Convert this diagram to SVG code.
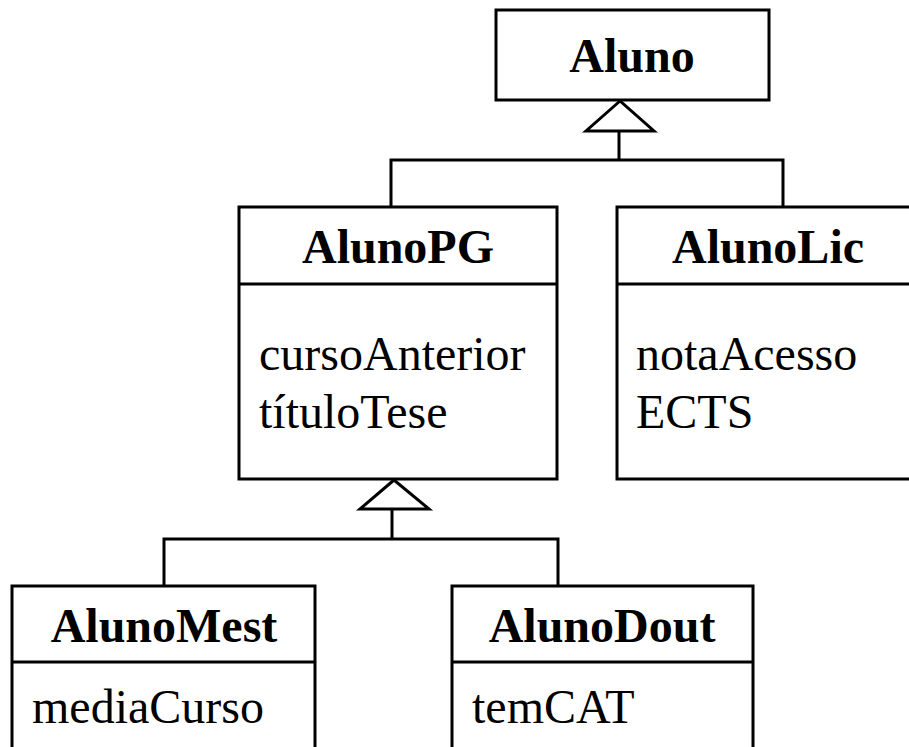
<svg xmlns="http://www.w3.org/2000/svg" width="909" height="747" viewBox="0 0 909 747">
<style>
.box{fill:#fff;stroke:#000;stroke-width:3}
.ln{fill:none;stroke:#000;stroke-width:3}
.name{font-family:"Liberation Serif","Times New Roman",serif;font-size:48px;font-weight:bold;text-anchor:middle;fill:#000}
.attr{font-family:"Liberation Serif","Times New Roman",serif;font-size:48px;fill:#000}
.tri{fill:#fff;stroke:#000;stroke-width:3}
</style>
<rect width="909" height="747" fill="#fff"/>
<g id="connectors">
<polyline class="ln" points="391,207 391,160 783,160 783,207"/>
<line class="ln" x1="619" y1="160" x2="619" y2="131"/>
<polygon class="tri" points="620,101 586,131 654,131"/>
<polyline class="ln" points="164,586 164,539 558,539 558,586"/>
<line class="ln" x1="392" y1="539" x2="392" y2="509"/>
<polygon class="tri" points="394,480 360,509 429,509"/>
</g>
<g id="Aluno">
<rect class="box" x="496" y="10" width="273" height="90"/>
<text class="name" x="632" y="72">Aluno</text>
</g>
<g id="AlunoPG">
<rect class="box" x="239" y="207" width="318" height="272"/>
<line class="ln" x1="239" y1="284" x2="557" y2="284"/>
<text class="name" x="398" y="263">AlunoPG</text>
<text class="attr" x="259" y="370">cursoAnterior</text>
<text class="attr" x="259" y="428">títuloTese</text>
</g>
<g id="AlunoLic">
<rect class="box" x="617" y="207" width="303" height="272"/>
<line class="ln" x1="617" y1="284" x2="920" y2="284"/>
<text class="name" x="768" y="263">AlunoLic</text>
<text class="attr" x="636" y="370">notaAcesso</text>
<text class="attr" x="636" y="428">ECTS</text>
</g>
<g id="AlunoMest">
<rect class="box" x="12" y="586" width="303" height="180"/>
<line class="ln" x1="12" y1="662" x2="315" y2="662"/>
<text class="name" x="164" y="642">AlunoMest</text>
<text class="attr" x="32" y="723">mediaCurso</text>
</g>
<g id="AlunoDout">
<rect class="box" x="452" y="586" width="301" height="180"/>
<line class="ln" x1="452" y1="662" x2="753" y2="662"/>
<text class="name" x="602" y="642">AlunoDout</text>
<text class="attr" x="472" y="723">temCAT</text>
</g>
</svg>
